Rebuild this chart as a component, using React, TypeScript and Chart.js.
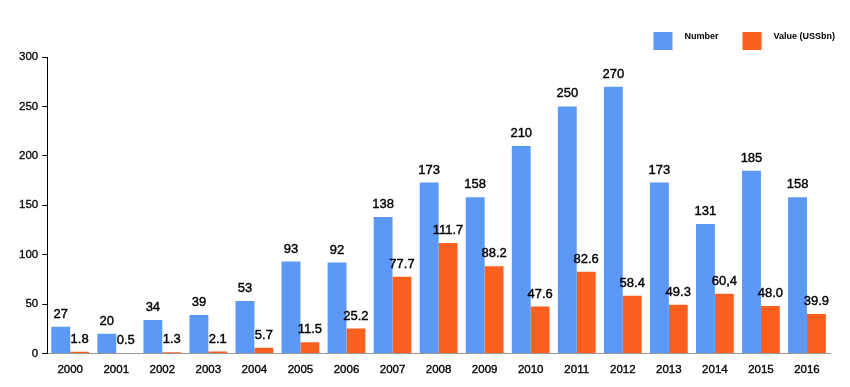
import React, { useEffect, useRef } from "react";
import { Chart, registerables } from "chart.js";

Chart.register(...registerables);

const years = ["2000","2001","2002","2003","2004","2005","2006","2007","2008","2009","2010","2011","2012","2013","2014","2015","2016"];
const numberDeals = [27,20,34,39,53,93,92,138,173,158,210,250,270,173,131,185,158];
const valueBn = [1.8,0.5,1.3,2.1,5.7,11.5,25.2,77.7,111.7,88.2,47.6,82.6,58.4,49.3,60.4,48.0,39.9];
const numberLabels = ["27","20","34","39","53","93","92","138","173","158","210","250","270","173","131","185","158"];
const valueLabels = ["1.8","0.5","1.3","2.1","5.7","11.5","25.2","77.7","111.7","88.2","47.6","82.6","58.4","49.3","60,4","48.0","39.9"];
const yTicks = [0,50,100,150,200,250,300];

const BLUE = "#5c98f6";
const ORANGE = "#fd5f1e";
const FONT = "'Liberation Sans', Arial, Helvetica, sans-serif";

const labelPlugin = {
  id: "barLabels",
  afterDatasetsDraw(chart: any) {
    const ctx = chart.ctx;
    const labelSets = [numberLabels, valueLabels];
    ctx.save();
    ctx.font = `13px ${FONT}`;
    ctx.fillStyle = "#000";
    ctx.strokeStyle = "#000";
    ctx.lineWidth = 0.4;
    ctx.textAlign = "center";
    ctx.textBaseline = "bottom";
    chart.data.datasets.forEach((ds: any, di: number) => {
      const meta = chart.getDatasetMeta(di);
      meta.data.forEach((bar: any, i: number) => {
        ctx.fillText(labelSets[di][i], bar.x, bar.y - 6);
        ctx.strokeText(labelSets[di][i], bar.x, bar.y - 6);
      });
    });
    ctx.restore();
  },
};

const legendPlugin = {
  id: "customLegend",
  afterDraw(chart: any) {
    const ctx = chart.ctx;
    const boxW = 19, boxH = 18, gapText = 12, gapItem = 24;
    const boxTop = 32, textBase = 38.5;
    ctx.save();
    ctx.font = `bold 9px ${FONT}`;
    ctx.textBaseline = "alphabetic";
    ctx.textAlign = "left";
    const items = chart.data.datasets.map((ds: any) => ({
      label: ds.label,
      color: ds.backgroundColor,
      w: ctx.measureText(ds.label).width,
    }));
    let x = chart.width - 15;
    for (let i = items.length - 1; i >= 0; i--) {
      const it = items[i];
      const textX = x - it.w;
      const boxX = textX - gapText - boxW;
      ctx.fillStyle = it.color;
      ctx.fillRect(boxX, boxTop, boxW, boxH);
      ctx.fillStyle = "#000";
      ctx.fillText(it.label, textX, textBase);
      x = boxX - gapItem;
    }
    ctx.restore();
  },
};

export default function App() {
  const ref = useRef<HTMLCanvasElement | null>(null);
  useEffect(() => {
    document.body.style.margin = "0";
    if (!ref.current) return;
    const chart = new Chart(ref.current, {
      type: "bar",
      data: {
        labels: years,
        datasets: [
          { label: "Number", data: numberDeals, backgroundColor: BLUE, categoryPercentage: 0.82, barPercentage: 1 },
          { label: "Value (USSbn)", data: valueBn, backgroundColor: ORANGE, categoryPercentage: 0.82, barPercentage: 1 },
        ],
      },
      options: {
        animation: false,
        responsive: false,
        maintainAspectRatio: false,
        layout: { padding: { left: 15, right: 20, top: 57, bottom: 0 } },
        plugins: {
          tooltip: { enabled: false },
          legend: { display: false },
        },
        scales: {
          x: {
            grid: { display: false, drawTicks: false },
            border: { display: true, color: "#999" },
            ticks: { color: "#000", font: { family: FONT, size: 11.5, lineHeight: 1 }, padding: 11, maxRotation: 0, textStrokeColor: "#000", textStrokeWidth: 0.35 },
          },
          y: {
            min: 0,
            max: 300,
            afterBuildTicks: (axis: any) => { axis.ticks = yTicks.map((v) => ({ value: v })); },
            grid: { drawOnChartArea: false, drawTicks: true, tickLength: 5, color: "#000" },
            border: { display: true, color: "#000" },
            ticks: { color: "#000", font: { family: FONT, size: 11.5 }, padding: 4, textStrokeColor: "#000", textStrokeWidth: 0.3 },
          },
        },
      },
      plugins: [labelPlugin, legendPlugin],
    });
    return () => chart.destroy();
  }, []);
  return (
    <div style={{ width: 850, height: 387, background: "#fff" }}>
      <canvas ref={ref} width={850} height={387} style={{ display: "block" }} />
    </div>
  );
}
